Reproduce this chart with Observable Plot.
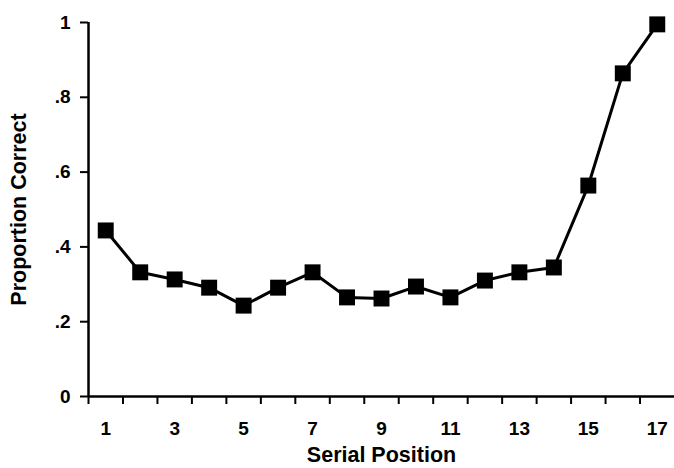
<!DOCTYPE html>
<html>
<head>
<meta charset="utf-8">
<script src="https://cdn.jsdelivr.net/npm/d3@7"></script>
<script src="https://cdn.jsdelivr.net/npm/@observablehq/plot@0.6"></script>
<style>
  html, body { margin: 0; padding: 0; background: #fff; overflow: hidden; }
  #chart svg { display: block; }
  #chart svg g[aria-label="x-axis tick label"] text,
  #chart svg g[aria-label="y-axis tick label"] text { font-size: 19px !important; font-weight: bold; }
</style>
</head>
<body>
<div id="chart"></div>
<script>
// Data
const serialPositions = [1, 2, 3, 4, 5, 6, 7, 8, 9, 10, 11, 12, 13, 14, 15, 16, 17];
const proportionCorrect = [0.444, 0.332, 0.313, 0.291, 0.243, 0.291, 0.332, 0.265, 0.262, 0.294, 0.265, 0.310, 0.332, 0.345, 0.564, 0.864, 0.995];
const xTickLabels = [1, 3, 5, 7, 9, 11, 13, 15, 17];
const xTickMarks = [0.5, 1.5, 2.5, 3.5, 4.5, 5.5, 6.5, 7.5, 8.5, 9.5, 10.5, 11.5, 12.5, 13.5, 14.5, 15.5, 16.5];
const yTicks = [0, 0.2, 0.4, 0.6, 0.8, 1];
const yTickLabels = ["0", ".2", ".4", ".6", ".8", "1"];
const xTitle = "Serial Position";
const yTitle = "Proportion Correct";

const data = serialPositions.map((p, i) => ({pos: p, value: proportionCorrect[i]}));
const font = "'Liberation Sans', Arial, Helvetica, sans-serif";

const chart = Plot.plot({
  width: 674,
  height: 468,
  marginLeft: 88,
  marginRight: 0,
  marginTop: 22,
  marginBottom: 72,
  style: {fontFamily: font, fontWeight: "bold", fontSize: "19px", color: "#000", background: "#fff"},
  x: {type: "linear", domain: [0.5, 17.5]},
  y: {domain: [0, 1]},
  marks: [
    Plot.axisY(yTicks, {
      tickSize: 8, tickPadding: 10, strokeWidth: 2,
      tickFormat: (d) => yTickLabels[yTicks.indexOf(d)],
      fontSize: 19, fontWeight: "bold", label: null
    }),
    Plot.axisX(xTickMarks, {tickSize: 8, strokeWidth: 2, tickFormat: () => "", label: null}),
    Plot.axisX(xTickLabels, {tickSize: 0, tickPadding: 25, tickFormat: (d) => String(d), fontSize: 19, fontWeight: "bold", label: null}),
    Plot.ruleX([0.5], {stroke: "#000", strokeWidth: 2.5}),
    Plot.ruleY([0], {stroke: "#000", strokeWidth: 2.5}),
    Plot.line(data, {x: "pos", y: "value", stroke: "#000", strokeWidth: 3}),
    Plot.dot(data, {x: "pos", y: "value", symbol: "square", r: 9, fill: "#000", stroke: "none"}),
    Plot.text([xTitle], {frameAnchor: "bottom", dy: 59, lineAnchor: "middle", textAnchor: "middle", fontSize: 21.5, fontWeight: "bold", fill: "#000"}),
    Plot.text([yTitle], {frameAnchor: "left", dx: -69, rotate: -90, lineAnchor: "middle", textAnchor: "middle", fontSize: 21.5, fontWeight: "bold", fill: "#000"})
  ]
});
document.getElementById("chart").appendChild(chart);
</script>
</body>
</html>
